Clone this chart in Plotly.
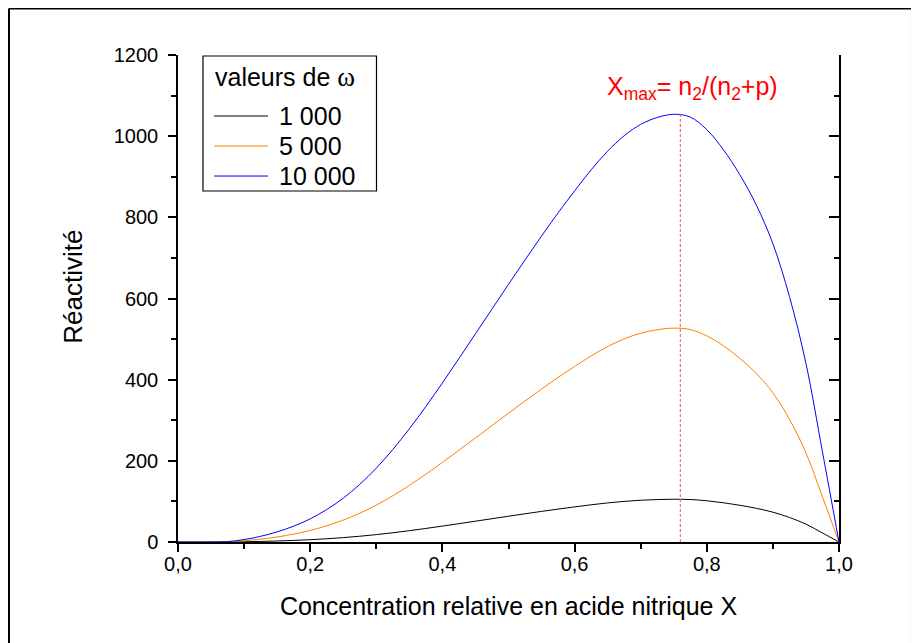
import plotly.graph_objects as go

# Data (X step 0.025)
x_vals = [0.0, 0.025, 0.05, 0.075, 0.1, 0.125, 0.15, 0.175, 0.2, 0.225, 0.25, 0.275,
          0.3, 0.325, 0.35, 0.375, 0.4, 0.425, 0.45, 0.475, 0.5, 0.525, 0.55, 0.575,
          0.6, 0.625, 0.65, 0.675, 0.7, 0.725, 0.75, 0.775, 0.8, 0.825, 0.85, 0.875,
          0.9, 0.925, 0.95, 0.975, 1.0]
react_1000 = [0, 0, 0, 0.1, 0.6, 1.4, 2.5, 3.9, 5.7, 8.0, 10.8, 14.2,
              18.2, 22.8, 27.9, 33.4, 39.2, 45.2, 51.3, 57.4, 63.5, 69.5, 75.4, 81.1,
              86.5, 91.7, 96.3, 100.1, 102.9, 104.6, 105.4, 104.7, 101.6, 96.7, 90.5, 83.0,
              73.5, 60.5, 44.0, 22.2, 0]
react_5000 = [0, 0, 0, 0.5, 3, 7, 12.5, 19.5, 28.5, 40, 54, 71,
              91, 114, 139.5, 167, 196, 226, 256.5, 287, 317.5, 347.5, 377, 405.5,
              432.5, 458.5, 481.5, 500.5, 514.5, 523, 527, 523.5, 508, 483.5, 452.5, 415,
              367.5, 302.5, 220, 111, 0]
react_10000 = [0, 0, 0, 1, 6, 14, 25, 39, 57, 80, 108, 142,
               182, 228, 279, 334, 392, 452, 513, 574, 635, 695, 754, 811,
               865, 917, 963, 1001, 1029, 1046, 1054, 1047, 1016, 967, 905, 830,
               735, 605, 440, 222, 0]

series_names = ["1 000", "5 000", "10 000"]
series_colors = ["#000000", "#FF8000", "#0000FF"]
legend_title = "valeurs de"

x_max = 0.76
y_peak = 1054

x_ticks = [0.0, 0.2, 0.4, 0.6, 0.8, 1.0]
y_ticks = [0, 200, 400, 600, 800, 1000, 1200]

FONT = "Arial, Liberation Sans, sans-serif"

fig = go.Figure()
for name, ys, col in zip(series_names, [react_1000, react_5000, react_10000], series_colors):
    fig.add_trace(go.Scatter(x=x_vals, y=ys, mode="lines", name=name, showlegend=False,
                             line=dict(color=col, width=1, shape="spline", smoothing=1.0)))

# dashed vertical marker at Xmax
fig.add_trace(go.Scatter(x=[x_max, x_max], y=[0, y_peak], mode="lines", showlegend=False,
                         line=dict(color="#FF6E6E", width=1.2, dash="3px,2px"), hoverinfo="skip"))

# right axis (inside ticks)
fig.add_trace(go.Scatter(x=[], y=[], yaxis="y2", showlegend=False))

fig.update_layout(
    width=911, height=635,
    margin=dict(l=170, r=80, t=47, b=101),
    paper_bgcolor="white", plot_bgcolor="white",
    separators=", ",
    font=dict(family=FONT, color="black", size=20),
    showlegend=False,
    xaxis=dict(
        range=[0, 1], tickvals=x_ticks, tickformat=".1f",
        showline=True, linecolor="black", linewidth=1.5,
        ticks="outside", ticklen=8, tickwidth=1.5, tickcolor="black",
        minor=dict(dtick=0.1, ticks="outside", ticklen=5, tickwidth=1.5, tickcolor="black"),
        showgrid=False, zeroline=False, ticklabelstandoff=-5,
        tickfont=dict(size=20),
        title=dict(text="Concentration relative en acide nitrique X", font=dict(size=25), standoff=24),
    ),
    yaxis=dict(
        range=[0, 1200], tickvals=y_ticks,
        showline=True, linecolor="black", linewidth=1.5,
        ticks="outside", ticklen=8, tickwidth=1.5, tickcolor="black",
        minor=dict(dtick=100, ticks="outside", ticklen=5, tickwidth=1.5, tickcolor="black"),
        showgrid=False, zeroline=False, ticklabelstandoff=6,
        tickfont=dict(size=20),
    ),
    yaxis2=dict(
        range=[0, 1200], overlaying="y", side="right", tickvals=y_ticks,
        showline=True, linecolor="black", linewidth=1.5,
        ticks="inside", ticklen=10, tickwidth=1.5, tickcolor="black",
        minor=dict(dtick=100, ticks="inside", ticklen=5, tickwidth=1.5, tickcolor="black"),
        showticklabels=False, showgrid=False, zeroline=False,
    ),
)

# y axis title (placed slightly above centre as in the reference)
fig.add_annotation(
    x=-0.160, y=0.5246, xref="paper", yref="paper", showarrow=False,
    text="Réactivité", textangle=-90, xanchor="center", yanchor="middle",
    font=dict(size=26, family=FONT, color="black"),
)

fig.add_annotation(
    x=0.778, y=1118, xref="x", yref="y", showarrow=False,
    text="X<sub>max</sub>= n<sub>2</sub>/(n<sub>2</sub>+p)",
    font=dict(color="#FF0000", size=25, family=FONT),
)

# legend box drawn by hand (long line samples as in the reference)
fig.add_shape(type="rect", xref="paper", yref="paper", x0=0.0378, x1=0.3003, y0=0.7207, y1=0.9979,
              line=dict(color="black", width=1.2), fillcolor="white", layer="above")
fig.add_annotation(
    x=0.0530, y=0.9548, xref="paper", yref="paper", showarrow=False, xanchor="left", yanchor="middle",
    text=legend_title + " <span style='font-family:Liberation Serif, Times New Roman, serif;font-size:27px'>ω</span>",
    font=dict(size=25, family=FONT, color="black"),
)
legend_rows = [0.8747, 0.8131, 0.7515]
for name, col, ry in zip(series_names, series_colors, legend_rows):
    fig.add_shape(type="line", xref="paper", yref="paper", x0=0.0545, x1=0.1362, y0=ry, y1=ry,
                  line=dict(color=col, width=1), layer="above")
    fig.add_annotation(x=0.1505, y=ry, xref="paper", yref="paper", showarrow=False,
                       xanchor="left", yanchor="middle", text=name,
                       font=dict(size=25, family=FONT, color="black"))

# outer frame around the figure
frame = dict(type="line", xref="paper", yref="paper", line=dict(color="black", width=2))
fig.add_shape(**frame, x0=-0.2557, x1=-0.2557, y0=1.0955, y1=-0.25)
fig.add_shape(**frame, x0=-0.2557, x1=1.1104, y0=1.0955, y1=1.0955)
fig.add_shape(**frame, x0=1.1104, x1=1.1104, y0=1.0955, y1=-0.25)

fig.write_html("out.html")
